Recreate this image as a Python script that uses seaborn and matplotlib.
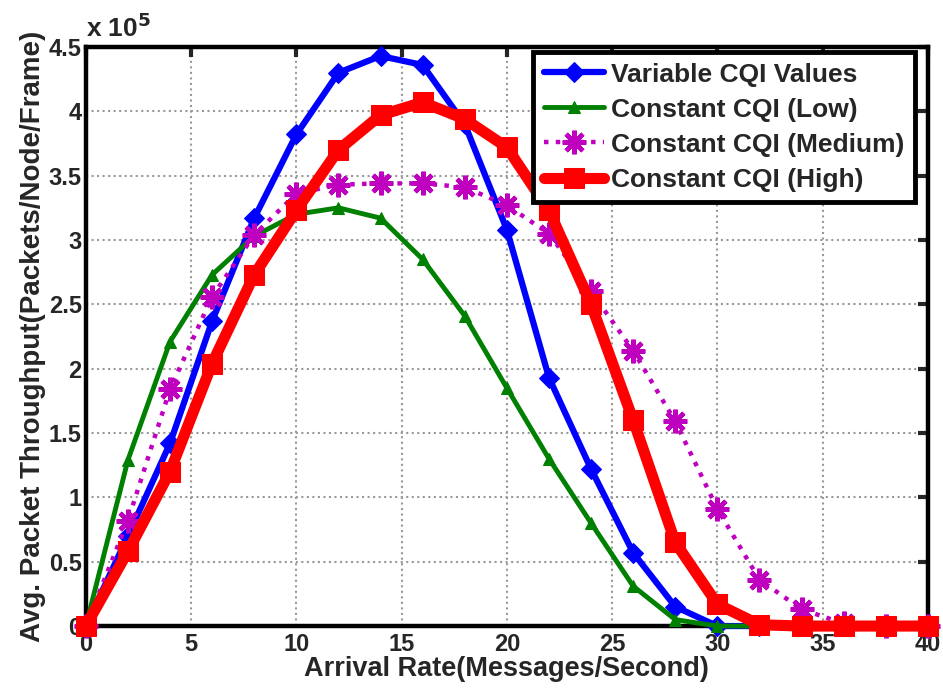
import matplotlib
matplotlib.use("Agg")
import matplotlib.pyplot as plt
import seaborn as sns
import numpy as np
import pandas as pd

arrival = [0, 2, 4, 6, 8, 10, 12, 14, 16, 18, 20, 22, 24, 26, 28, 30, 32, 34, 36, 38, 40]
variable_cqi = [0, 0.70, 1.42, 2.37, 3.17, 3.82, 4.30, 4.43, 4.36, 3.90, 3.08, 1.93, 1.22, 0.57, 0.15, 0.0, 0, 0, 0, 0, 0]
low_cqi = [0, 1.29, 2.21, 2.73, 3.03, 3.20, 3.25, 3.17, 2.85, 2.41, 1.85, 1.30, 0.80, 0.31, 0.05, 0.0, 0, 0, 0, 0, 0]
medium_cqi = [0, 0.82, 1.84, 2.56, 3.04, 3.36, 3.43, 3.44, 3.44, 3.41, 3.27, 3.05, 2.60, 2.14, 1.59, 0.91, 0.36, 0.13, 0.02, 0, 0]
high_cqi = [0, 0.58, 1.20, 2.04, 2.73, 3.23, 3.70, 3.97, 4.07, 3.94, 3.72, 3.23, 2.50, 1.60, 0.65, 0.17, 0.01, 0, 0, 0, 0]

labels = ["Variable CQI Values", "Constant CQI (Low)", "Constant CQI (Medium)", "Constant CQI (High)"]
series = [variable_cqi, low_cqi, medium_cqi, high_cqi]
colors = ["#0000ff", "#008000", "#bf00bf", "#ff0000"]
styles = [
    dict(marker="D", markersize=10, linewidth=4.5, linestyle="-"),
    dict(marker="^", markersize=8, linewidth=3.5, linestyle="-"),
    dict(marker=(8, 2, 0), markersize=17, linewidth=3.2, linestyle=":", markeredgewidth=3.2),
    dict(marker="s", markersize=15, linewidth=8, linestyle="-"),
]

sns.set_theme(style="white")
plt.rcParams['font.family'] = ['Liberation Sans', 'DejaVu Sans']
plt.rcParams['font.weight'] = 'bold'

fig = plt.figure(figsize=(9.43, 6.91), dpi=100)
ax = fig.add_axes([0.091, 0.094, 0.893, 0.838])

for lab, vals, c, st in zip(labels, series, colors, styles):
    df = pd.DataFrame({"x": arrival, "y": vals})
    sns.lineplot(data=df, x="x", y="y", ax=ax, color=c, label=lab,
                 markeredgecolor=c, markerfacecolor=c, clip_on=False, zorder=3, **st)

ax.set_xlim(0, 40)
ax.set_ylim(0, 4.5)
ax.set_xticks(np.arange(0, 41, 5))
ax.set_yticks(np.arange(0, 4.51, 0.5))
ax.set_yticklabels(["0", "0.5", "1", "1.5", "2", "2.5", "3", "3.5", "4", "4.5"])
ax.grid(True, color="#999999", linestyle=":", linewidth=1.5)
ax.tick_params(direction="in", length=7, width=3, top=True, right=True,
               labelsize=17)
ax.tick_params(axis="x", pad=5)
ax.tick_params(axis="y", pad=3)
for lab in ax.get_xticklabels() + ax.get_yticklabels():
    lab.set_fontweight("bold")
for s in ax.spines.values():
    s.set_linewidth(3.2)
    s.set_color("black")
    s.set_visible(True)

ax.set_xlabel("Arrival Rate(Messages/Second)", fontsize=19.5, fontweight="bold", labelpad=0)
ax.set_ylabel("Avg. Packet Throughput(Packets/Node/Frame)", fontsize=20, fontweight="bold", labelpad=2)
ax.text(0.0, 1.008, r"x 10$^{5}$", transform=ax.transAxes, fontsize=19, fontweight="bold",
        ha="left", va="bottom")

leg = ax.legend(loc="upper right", bbox_to_anchor=(0.9846, 0.9914), fontsize=19,
                frameon=True, fancybox=False,
                handlelength=2.3, borderaxespad=0.0, labelspacing=0.42,
                handletextpad=0.25, borderpad=0.4)
leg.get_frame().set_edgecolor("black")
leg.get_frame().set_linewidth(3.5)
leg.get_frame().set_alpha(1)
for t in leg.get_texts():
    t.set_fontweight("bold")

fig.savefig("out.png", dpi=100)
